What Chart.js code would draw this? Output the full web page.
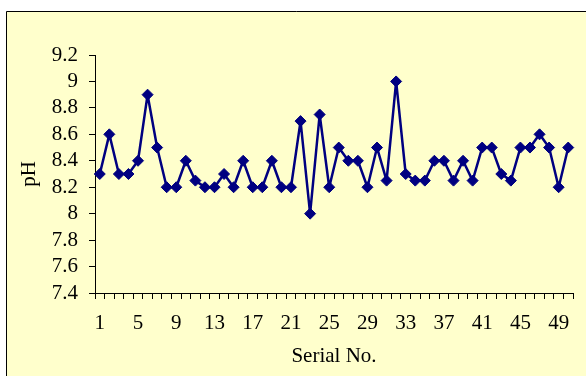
<!DOCTYPE html>
<html>
<head>
<meta charset="utf-8">
<script src="https://cdn.jsdelivr.net/npm/chart.js@4"></script>
<style>
  html, body { margin: 0; padding: 0; background: #ffffff; }
  #wrap { width: 586px; height: 376px; position: relative; }
</style>
</head>
<body>
<div id="wrap"><canvas id="c" width="586" height="376"></canvas></div>
<script>
const serialNos = Array.from({length: 50}, (_, i) => String(i + 1));
const phValues = [
  8.3, 8.6, 8.3, 8.3, 8.4, 8.9, 8.5, 8.2, 8.2, 8.4,
  8.25, 8.2, 8.2, 8.3, 8.2, 8.4, 8.2, 8.2, 8.4, 8.2,
  8.2, 8.7, 8.0, 8.75, 8.2, 8.5, 8.4, 8.4, 8.2, 8.5,
  8.25, 9.0, 8.3, 8.25, 8.25, 8.4, 8.4, 8.25, 8.4, 8.25,
  8.5, 8.5, 8.3, 8.25, 8.5, 8.5, 8.6, 8.5, 8.2, 8.5
];
const yMin = 7.4, yMax = 9.2, yStep = 0.2;
const xAxisTitle = 'Serial No.';
const yAxisTitle = 'pH';

const FONT = "'Liberation Serif', 'Times New Roman', serif";

const frame = {
  id: 'frame',
  beforeDraw(chart) {
    const ctx = chart.ctx;
    ctx.save();
    ctx.fillStyle = '#ffffff';
    ctx.fillRect(0, 0, chart.width, chart.height);
    ctx.fillStyle = '#FFFFCC';
    ctx.fillRect(6, 11, chart.width - 6, chart.height - 11);
    ctx.strokeStyle = '#000000';
    ctx.lineWidth = 1;
    ctx.beginPath();
    ctx.moveTo(6.5, chart.height);
    ctx.lineTo(6.5, 11.5);
    ctx.lineTo(chart.width, 11.5);
    ctx.stroke();
    ctx.restore();
  }
};

new Chart(document.getElementById('c'), {
  type: 'line',
  data: {
    labels: serialNos,
    datasets: [{
      data: phValues,
      borderColor: '#000080',
      backgroundColor: '#000080',
      borderWidth: 2.5,
      borderJoinStyle: 'round',
      pointStyle: 'rectRot',
      pointRadius: 5.5,
      pointBorderWidth: 1,
      pointBackgroundColor: '#000080',
      pointBorderColor: '#000080',
      tension: 0,
      fill: false
    }]
  },
  options: {
    responsive: false,
    animation: false,
    devicePixelRatio: 1,
    layout: { padding: { left: 6, top: 55, right: 13, bottom: 0 } },
    plugins: { legend: { display: false }, tooltip: { enabled: false } },
    scales: {
      x: {
        type: 'category',
        offset: true,
        grid: { display: true, drawOnChartArea: false, offset: true, color: '#000000', tickLength: 6, lineWidth: 1 },
        border: { display: true, color: '#000000', width: 1 },
        ticks: {
          autoSkip: false, maxRotation: 0, minRotation: 0,
          color: '#000000', font: { family: FONT, size: 21 }, padding: 12,
          callback: (v, i) => (i % 4 === 0 ? serialNos[i] : '')
        },
        title: { display: true, text: xAxisTitle, color: '#000000', font: { family: FONT, size: 21 }, padding: { top: 0, bottom: 7 } },
        afterFit: (s) => { s.height = 83; }
      },
      y: {
        min: yMin, max: yMax,
        grid: { display: true, drawOnChartArea: false, color: '#000000', tickLength: 6, lineWidth: 1 },
        border: { display: true, color: '#000000', width: 1 },
        ticks: {
          autoSkip: false, stepSize: yStep, color: '#000000', font: { family: FONT, size: 21 }, padding: 11,
          callback: (v) => String(+v.toFixed(1))
        },
        title: { display: true, text: yAxisTitle, color: '#000000', font: { family: FONT, size: 21 }, padding: { top: 11, bottom: 0 } },
        afterFit: (s) => { s.width = 89; }
      }
    }
  },
  plugins: [frame]
});
</script>
</body>
</html>
